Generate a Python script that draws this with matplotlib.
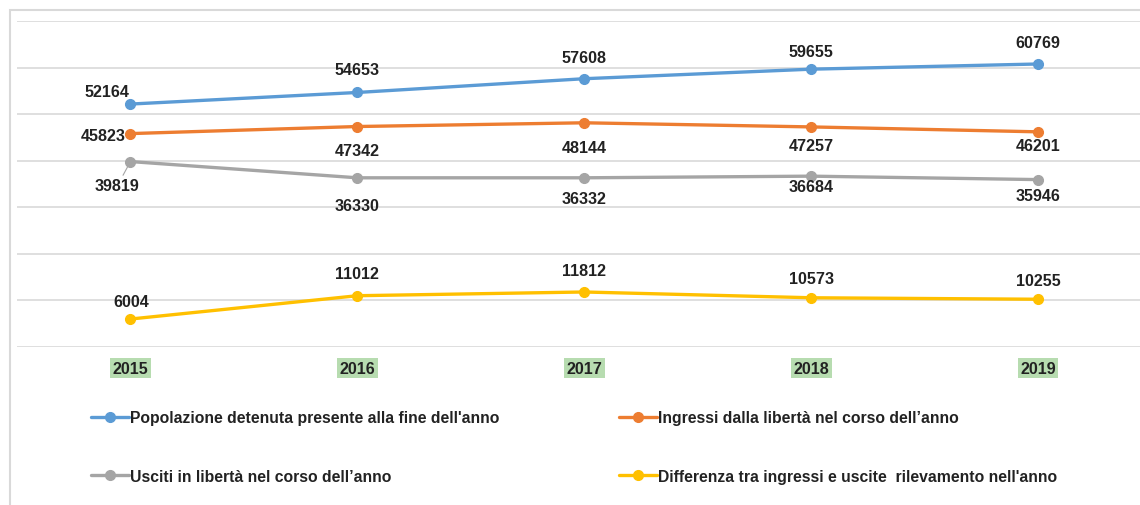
import matplotlib
matplotlib.use("Agg")
import matplotlib.pyplot as plt
from matplotlib.patches import Rectangle

# Data
years = ["2015", "2016", "2017", "2018", "2019"]
popolazione = [52164, 54653, 57608, 59655, 60769]
ingressi = [45823, 47342, 48144, 47257, 46201]
usciti = [39819, 36330, 36332, 36684, 35946]
differenza = [6004, 11012, 11812, 10573, 10255]

series_names = [
    "Popolazione detenuta presente alla fine dell'anno",
    "Ingressi dalla libertà nel corso dell’anno",
    "Usciti in libertà nel corso dell’anno",
    "Differenza tra ingressi e uscite  rilevamento nell'anno",
]
colors = ["#5b9bd5", "#ed7d31", "#a5a5a5", "#ffc000"]

# label offsets in pixels (dx, dy), y up
offsets = [
    [(-23, 13), (0, 23), (0, 21), (0, 18), (0, 21)],
    [(-27, -2), (0, -24), (0, -25), (0, -19), (0, -14)],
    [(-13, -24), (0, -28), (0, -21), (0, -10), (0, -16)],
    [(1, 18), (0, 22), (0, 21), (0, 19), (0, 19)],
]

W, H = 1140, 506
plt.rcParams["font.family"] = ["Liberation Sans", "DejaVu Sans"]
FS = 11.6
LFS = 11.3
TXT = "#222222"

fig = plt.figure(figsize=(W / 100, H / 100), dpi=100)
ax = fig.add_axes([17 / W, (H - 348) / H, (1151.5 - 17) / W, (348 - 22) / H])

x = list(range(len(years)))
all_series = [popolazione, ingressi, usciti, differenza]
lines = []
for vals, name, col, offs in zip(all_series, series_names, colors, offsets):
    ln, = ax.plot(x, vals, color=col, lw=2.4, marker="o", ms=7,
                  solid_capstyle="round", label=name, zorder=3)
    lines.append(ln)
    for i, v in enumerate(vals):
        arrow = None
        if col == "#a5a5a5" and i == 0:
            arrow = dict(arrowstyle="-", color="#a5a5a5", lw=0.8,
                         shrinkA=0, shrinkB=4)
        ax.annotate(str(v), (i, v), xytext=offs[i], textcoords="offset pixels",
                    ha="center", va="center", fontsize=FS, fontweight="bold",
                    color=TXT, arrowprops=arrow, zorder=4)

ax.set_xlim(-0.5, len(years) - 0.5)
ax.set_ylim(0, 70000)
ax.set_yticks(range(0, 70001, 10000))
ax.yaxis.grid(True, color="#d9d9d9", lw=1.2)
ax.set_axisbelow(True)
ax.tick_params(axis="y", left=False, labelleft=False)
ax.tick_params(axis="x", length=0, pad=10)
ax.set_xticks(x)
ax.set_xticklabels(years, fontsize=FS, fontweight="bold", color=TXT)
for t in ax.get_xticklabels():
    t.set_bbox(dict(facecolor="#b7dcb0", edgecolor="none", pad=1.8))
for s in ax.spines.values():
    s.set_visible(False)

# legend in two columns
leg_kw = dict(frameon=False, handlelength=2.4, handletextpad=0.1,
              borderpad=0, borderaxespad=0, labelspacing=2.8,
              loc="upper left", labelcolor=TXT, prop=dict(weight="bold", size=LFS))
leg1 = fig.legend([lines[0], lines[2]], [series_names[0], series_names[2]],
                  bbox_to_anchor=(91 / W, 1 - 411 / H), **leg_kw)
leg2 = fig.legend([lines[1], lines[3]], [series_names[1], series_names[3]],
                  bbox_to_anchor=(619 / W, 1 - 411 / H), **leg_kw)

# chart frame
fig.add_artist(Rectangle((10 / W, -0.1), 2, 1 - 11 / H + 0.1,
                         transform=fig.transFigure, fill=False,
                         ec="#d9d9d9", lw=1.5))

fig.savefig("out.png", dpi=100)
